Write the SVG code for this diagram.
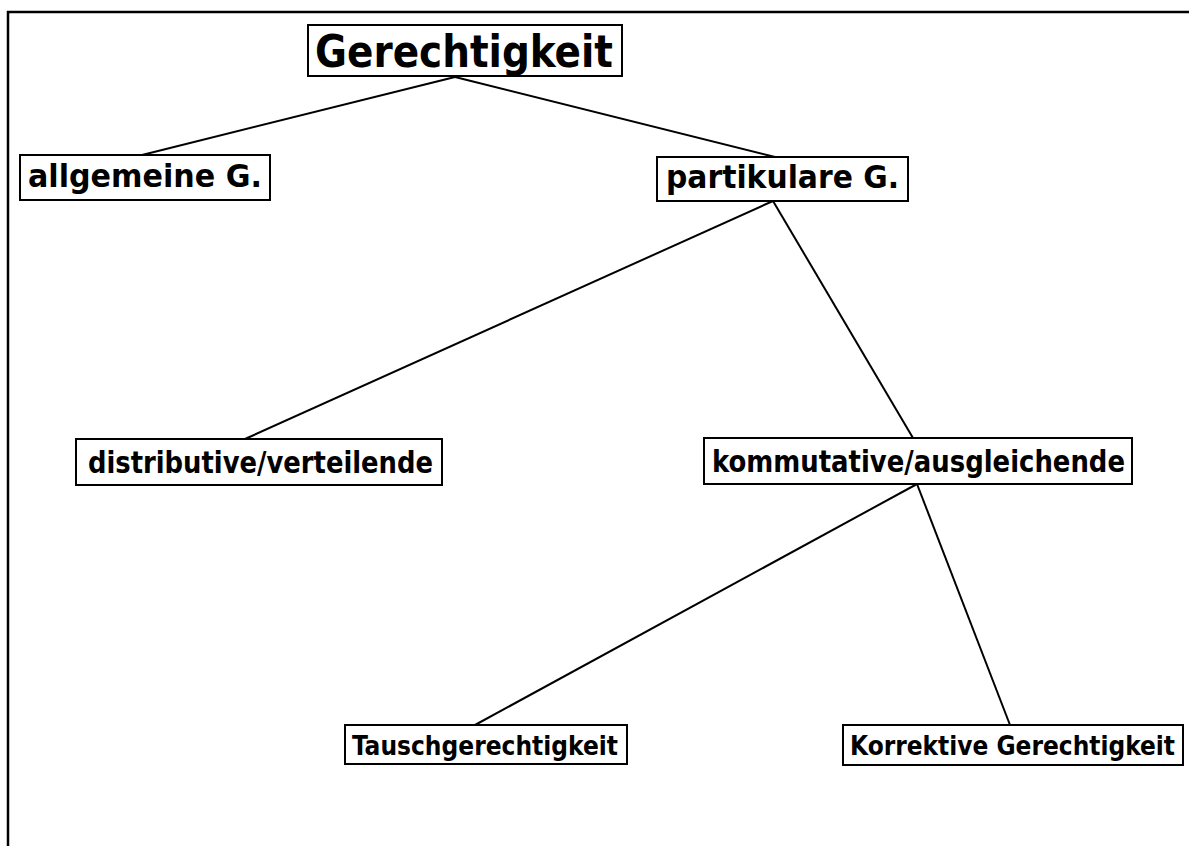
<svg xmlns="http://www.w3.org/2000/svg" width="1189" height="846" viewBox="0 0 1189 846">
<style>
.box{fill:#fff;stroke:#000;stroke-width:2}
.t{font-family:"DejaVu Sans Condensed","DejaVu Sans","Open Sans",sans-serif;font-stretch:condensed;font-weight:bold;fill:#000}
.c{stroke:#000;stroke-width:2;fill:none}
</style>
<rect width="1189" height="846" fill="#fff"/>
<path d="M8 846 V12 H1189" fill="none" stroke="#000" stroke-width="2.5"/>
<g id="connectors">
<line class="c" x1="455" y1="77" x2="138" y2="156"/>
<line class="c" x1="455" y1="77" x2="775" y2="157"/>
<line class="c" x1="773" y1="201" x2="245" y2="439"/>
<line class="c" x1="773" y1="201" x2="913" y2="438"/>
<line class="c" x1="917" y1="484" x2="475" y2="725"/>
<line class="c" x1="917" y1="484" x2="1010" y2="725"/>
</g>
<g id="n-gerechtigkeit">
<rect class="box" x="308" y="25" width="314" height="51"/>
<text class="t" x="315" y="67" font-size="44" textLength="298" lengthAdjust="spacingAndGlyphs">Gerechtigkeit</text>
</g>
<g id="n-allgemeine">
<rect class="box" x="20" y="155" width="250" height="45"/>
<text class="t" x="28" y="187" font-size="32" textLength="234" lengthAdjust="spacingAndGlyphs">allgemeine G.</text>
</g>
<g id="n-partikulare">
<rect class="box" x="657" y="157" width="251" height="44"/>
<text class="t" x="666" y="188" font-size="32" textLength="233" lengthAdjust="spacingAndGlyphs">partikulare G.</text>
</g>
<g id="n-distributive">
<rect class="box" x="76" y="439" width="366" height="46"/>
<text class="t" x="88" y="473" font-size="30" textLength="345" lengthAdjust="spacingAndGlyphs">distributive/verteilende</text>
</g>
<g id="n-kommutative">
<rect class="box" x="704" y="438" width="428" height="46"/>
<text class="t" x="712" y="472" font-size="30" textLength="413" lengthAdjust="spacingAndGlyphs">kommutative/ausgleichende</text>
</g>
<g id="n-tausch">
<rect class="box" x="345" y="725" width="282" height="39"/>
<text class="t" x="352" y="755" font-size="27" textLength="266" lengthAdjust="spacingAndGlyphs">Tauschgerechtigkeit</text>
</g>
<g id="n-korrektive">
<rect class="box" x="843" y="725" width="340" height="40"/>
<text class="t" x="850" y="755" font-size="27" textLength="325" lengthAdjust="spacingAndGlyphs">Korrektive Gerechtigkeit</text>
</g>
</svg>
